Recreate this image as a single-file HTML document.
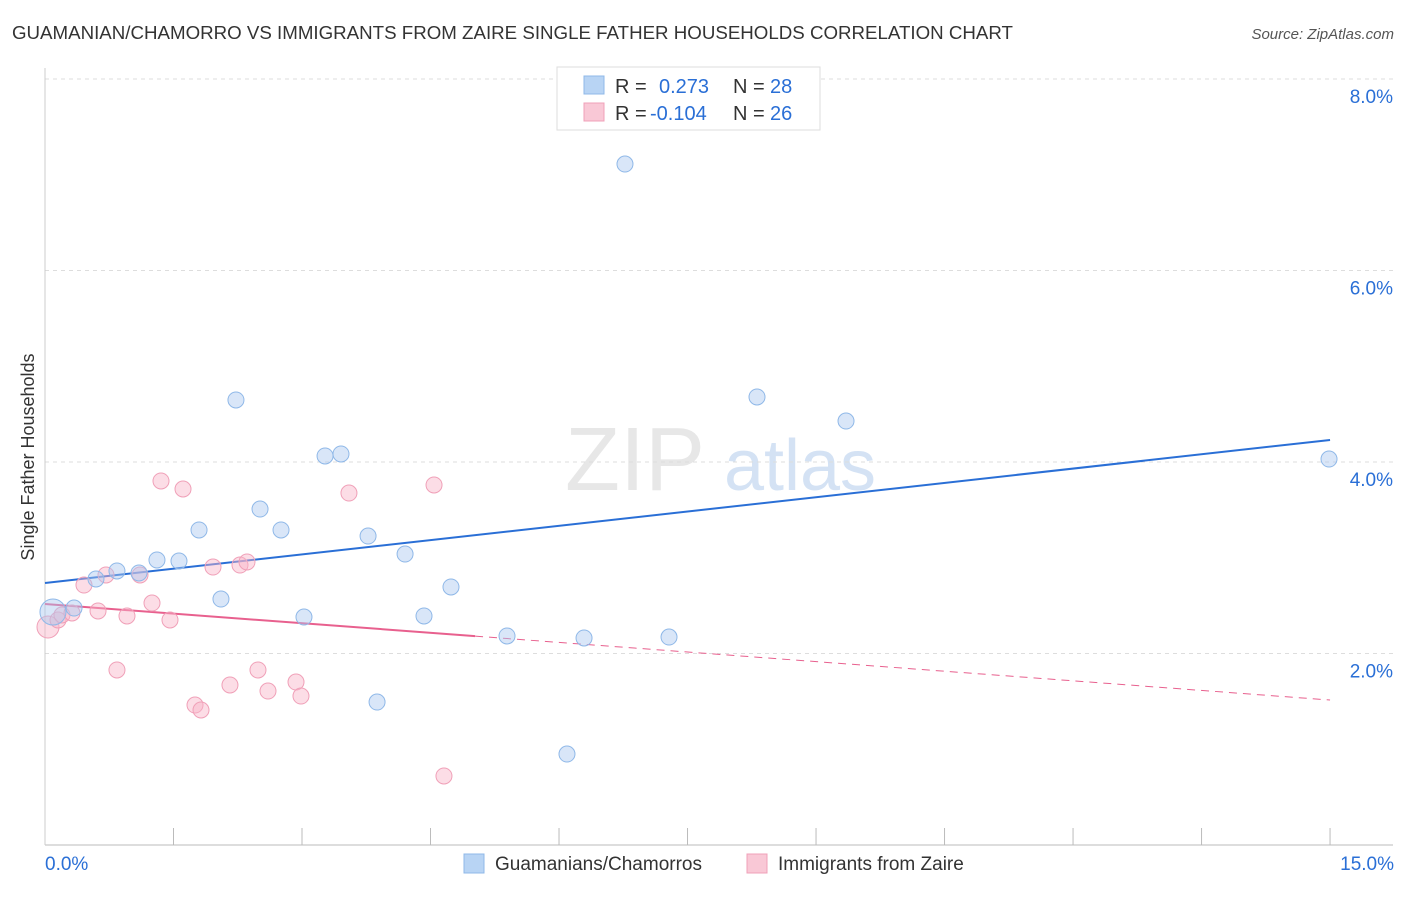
<!DOCTYPE html>
<html><head><meta charset="utf-8">
<style>
html,body{margin:0;padding:0;background:#fff;}
body{width:1406px;height:892px;overflow:hidden;font-family:"Liberation Sans",sans-serif;}
svg text{font-family:"Liberation Sans",sans-serif;}
</style></head>
<body>
<svg id="chart" width="1406" height="892" viewBox="0 0 1406 892">
<text x="12" y="39" font-size="18" fill="#333" textLength="1001" lengthAdjust="spacingAndGlyphs">GUAMANIAN/CHAMORRO VS IMMIGRANTS FROM ZAIRE SINGLE FATHER HOUSEHOLDS CORRELATION CHART</text>
<text x="1394" y="39" font-size="15" fill="#555" font-style="italic" text-anchor="end">Source: ZipAtlas.com</text>
<text x="34" y="457" font-size="18" fill="#333" text-anchor="middle" transform="rotate(-90 34 457)">Single Father Households</text>
<g>
<text x="635" y="490" font-size="90" fill="#d8d8d8" font-family="Liberation Serif" text-anchor="middle" opacity="0.6">ZIP</text>
<text x="800" y="490" font-size="72" fill="#b8d0ee" text-anchor="middle" opacity="0.6">atlas</text>
</g>
<g id="grid"></g>
<g id="axes"></g>
<g id="trends"></g>
<g id="points"></g>
<g>
<rect x="557" y="67" width="263" height="63" fill="#fff" stroke="#ddd"/>
<rect x="584" y="76" width="20" height="18" fill="#b8d4f4" stroke="#8fb8e8"/>
<text x="615" y="93" font-size="20" fill="#333">R =</text>
<text x="659" y="93" font-size="20" fill="#2a6fd6">0.273</text>
<text x="733" y="93" font-size="20" fill="#333">N =</text>
<text x="770" y="93" font-size="20" fill="#2a6fd6">28</text>
<rect x="584" y="103" width="20" height="18" fill="#f9c8d6" stroke="#f0a0b8"/>
<text x="615" y="120" font-size="20" fill="#333">R =</text>
<text x="650" y="120" font-size="20" fill="#2a6fd6">-0.104</text>
<text x="733" y="120" font-size="20" fill="#333">N =</text>
<text x="770" y="120" font-size="20" fill="#2a6fd6">26</text>
</g>
<g>
<rect x="464" y="854" width="20" height="19" fill="#b8d4f4" stroke="#8fb8e8"/>
<text x="495" y="870" font-size="19" fill="#333">Guamanians/Chamorros</text>
<rect x="747" y="854" width="20" height="19" fill="#f9c8d6" stroke="#f0a0b8"/>
<text x="778" y="870" font-size="19" fill="#333">Immigrants from Zaire</text>
</g>
</svg>
<script>
const yTicks=[2,4,6,8];
const yTickLabels=["2.0%","4.0%","6.0%","8.0%"];
const xTickLabels=["0.0%","15.0%"];
const blueX=[0.093,0.339,0.595,0.840,1.097,1.307,1.564,1.798,2.054,2.229,2.510,2.755,3.023,3.269,3.455,3.771,3.876,4.203,4.424,4.739,5.393,6.093,6.292,6.770,7.284,8.311,9.350,14.988];
const blueY=[2.433,2.475,2.778,2.862,2.841,2.977,2.966,3.290,2.569,4.648,3.509,3.290,2.381,4.063,4.084,3.227,1.493,3.039,2.392,2.695,2.183,0.950,2.162,7.112,2.172,4.679,4.428,4.031];
const pinkX=[0.035,0.152,0.198,0.315,0.455,0.619,0.712,0.840,0.957,1.109,1.249,1.354,1.459,1.611,1.751,1.821,1.961,2.159,2.276,2.358,2.486,2.603,2.930,2.988,3.548,4.541,4.657];
const pinkY=[2.277,2.350,2.402,2.423,2.715,2.444,2.820,1.828,2.392,2.820,2.527,3.802,2.350,3.718,1.462,1.410,2.903,1.671,2.924,2.956,1.828,1.608,1.702,1.556,3.676,3.760,0.721];
const blueTrend=[2.736,4.230];
const pinkTrend=[2.517,1.514];
const pinkSolidEnd=5.02;

const NS="http://www.w3.org/2000/svg";
function sx(v){return 45+v*85.67;}
function sy(v){return 845-v*95.75;}
function mk(tag,attrs,parent){const e=document.createElementNS(NS,tag);for(const k in attrs)e.setAttribute(k,attrs[k]);parent.appendChild(e);return e;}
const grid=document.getElementById('grid'),axes=document.getElementById('axes'),tr=document.getElementById('trends'),pts=document.getElementById('points');
yTicks.forEach((t,i)=>{
  const l=mk('line',{x1:45,x2:1393,y1:sy(t),y2:sy(t),stroke:'#ddd','stroke-dasharray':'4,4'},grid);
  
  
  const tx=mk('text',{x:1393,y:sy(t)+24,'font-size':19,fill:'#2a6fd6','text-anchor':'end'},axes);
  tx.textContent=yTickLabels[i];
  
  
});
const ax=mk('line',{x1:45,x2:1393,y1:845,y2:845,stroke:'#bbb'},axes);


const ay=mk('line',{x1:45,x2:45,y1:68,y2:845,stroke:'#ccc'},axes);


for(let i=1;i<=10;i++){
  const t=mk('line',{x1:sx(i*1.5),x2:sx(i*1.5),y1:828,y2:845,stroke:'#bbb'},axes);
  
  
}
const xl0=mk('text',{x:45,y:870,'font-size':19,fill:'#2a6fd6'},axes);
xl0.textContent=xTickLabels[0];


const xl1=mk('text',{x:1394,y:870,'font-size':19,fill:'#2a6fd6','text-anchor':'end'},axes);
xl1.textContent=xTickLabels[1];



const bl=mk('line',{x1:sx(0),y1:sy(blueTrend[0]),x2:sx(15),y2:sy(blueTrend[1]),stroke:'#2a6fd6','stroke-width':2},tr);


const pMid=pinkTrend[0]+(pinkTrend[1]-pinkTrend[0])*pinkSolidEnd/15;
const pl=mk('line',{x1:sx(0),y1:sy(pinkTrend[0]),x2:sx(pinkSolidEnd),y2:sy(pMid),stroke:'#e8608e','stroke-width':2},tr);


const pd=mk('line',{x1:sx(pinkSolidEnd),y1:sy(pMid),x2:sx(15),y2:sy(pinkTrend[1]),stroke:'#e8608e','stroke-width':1,'stroke-dasharray':'8,6'},tr);



pinkX.forEach((x,i)=>{
  const c=mk('circle',{cx:sx(x),cy:sy(pinkY[i]),r:i===0?11:8,fill:'rgba(248,180,200,0.45)',stroke:'#f0a0b8','stroke-width':1},pts);
  
  
});
blueX.forEach((x,i)=>{
  const c=mk('circle',{cx:sx(x),cy:sy(blueY[i]),r:i===0?13:8,fill:'rgba(170,200,240,0.45)',stroke:'#8fb8e8','stroke-width':1},pts);
  
  
});
</script>
</body></html>
